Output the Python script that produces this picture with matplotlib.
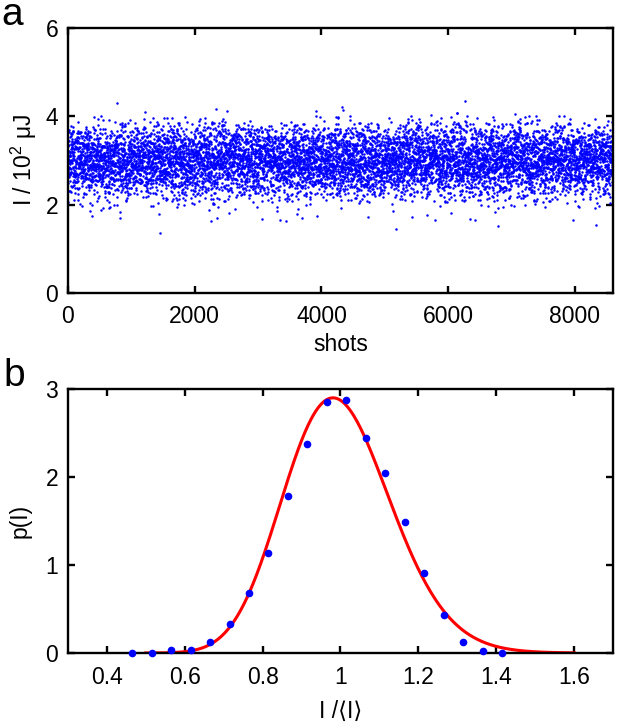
import numpy as np
import matplotlib.pyplot as plt
from math import lgamma

plt.rcParams['font.family'] = ['Liberation Sans', 'DejaVu Sans']
plt.rcParams['mathtext.fontset'] = 'custom'
plt.rcParams['mathtext.rm'] = 'Liberation Sans'

# === Data ===
# panel b: histogram of normalised pulse energy
bin_centres = [0.465, 0.515, 0.565, 0.615, 0.665, 0.715, 0.765, 0.815, 0.865, 0.915,
               0.965, 1.015, 1.065, 1.115, 1.165, 1.215, 1.265, 1.315, 1.365, 1.415]
p_values = [0.00, 0.00, 0.03, 0.03, 0.12, 0.33, 0.68, 1.14, 1.78, 2.38,
            2.85, 2.87, 2.44, 2.05, 1.49, 0.91, 0.43, 0.13, 0.02, 0.00]
bin_width = 0.05

# gamma-distribution fit (number of modes M)
fit_M = 52
fit_range = (0.5, 1.6)

# panel a: number of shots and mean energy
n_shots = 8600
mean_energy = 3.0  # in 10^2 uJ
# isolated outliers seen in panel a (10^2 uJ)
outlier_energies = [1.35, 1.45, 1.52, 1.55, 1.62, 1.65, 1.7, 4.35, 4.3, 4.2]

# === Build the shot series from the histogram counts ===
counts = np.round(np.array(p_values) * bin_width * n_shots).astype(int)
vals = []
for c, n in zip(bin_centres, counts):
    if n > 0:
        vals.append(np.linspace(c - bin_width / 2, c + bin_width / 2, n + 2)[1:-1])
vals = np.concatenate(vals + [np.array(outlier_energies) / mean_energy])
n = len(vals)

# deterministic scramble of shot order (integer hash)
h = np.arange(n, dtype=np.uint64) + np.uint64(12345)
h = (h ^ (h >> np.uint64(16))) * np.uint64(0x45d9f3b) % np.uint64(2**32)
h = (h ^ (h >> np.uint64(16))) * np.uint64(0x45d9f3b) % np.uint64(2**32)
h = h ^ (h >> np.uint64(16))
energies = vals[np.argsort(h)] * mean_energy
shots = np.linspace(1, n_shots, n)

# fit curve
M = fit_M
x_fit = np.linspace(fit_range[0], fit_range[1], 400)
p_fit = np.exp(M * np.log(M) + (M - 1) * np.log(x_fit) - M * x_fit - lgamma(M))

# === Figure ===
fig = plt.figure(figsize=(6.22, 7.25), dpi=100)
ax1 = fig.add_axes([0.1093, 0.5959, 0.8762, 0.3655])
ax2 = fig.add_axes([0.1093, 0.0993, 0.8762, 0.3641])

ax1.plot(shots, energies, 'o', color='#0000ff', ms=1.8, mew=0)
ax1.set_xlim(0, 8600)
ax1.set_ylim(0, 6)
ax1.set_xticks([0, 2000, 4000, 6000, 8000])
ax1.set_yticks([0, 2, 4, 6])
ax1.set_xlabel('shots', fontsize=16.5, labelpad=3)
ax1.set_ylabel(r'I / 10$^2$ μJ', fontsize=16.5, labelpad=5)

ax2.plot(x_fit, p_fit, '-', color='#ff0000', lw=2.2)
ax2.plot(bin_centres, p_values, 'o', color='#0000ff', ms=5.5, mew=0, clip_on=False, zorder=3)
ax2.set_xlim(0.3, 1.7)
ax2.set_ylim(0, 3)
ax2.set_xticks([0.4, 0.6, 0.8, 1.0, 1.2, 1.4, 1.6])
ax2.set_xticklabels(['0.4', '0.6', '0.8', '1', '1.2', '1.4', '1.6'])
ax2.set_yticks([0, 1, 2, 3])
ax2.set_xlabel('I /⟨I⟩', fontsize=16.5, labelpad=8)
ax2.set_ylabel('p(I)', fontsize=16.5, labelpad=10)

for ax in (ax1, ax2):
    for s in ax.spines.values():
        s.set_linewidth(1.7)
    ax.tick_params(direction='in', top=True, right=True, length=5, width=1.7,
                   labelsize=16.5)
    ax.tick_params(axis='x', pad=9)
    ax.tick_params(axis='y', pad=7)

fig.text(0.003, 0.966, 'a', fontsize=28, va='baseline')
fig.text(0.006, 0.467, 'b', fontsize=28, va='baseline')

fig.savefig('out.png', dpi=100)
